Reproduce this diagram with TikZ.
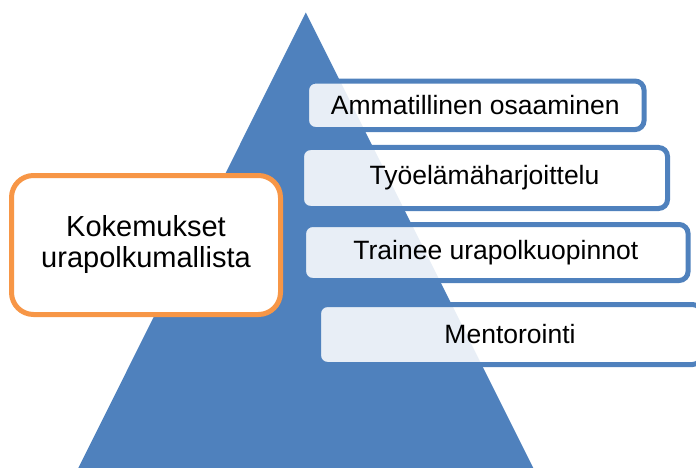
\documentclass[tikz,border=0pt]{standalone}
\usepackage{fontspec}
\setmainfont{Liberation Sans}
\usetikzlibrary{positioning}
\definecolor{pyramidblue}{RGB}{79,129,189}
\definecolor{kokemusorange}{RGB}{247,150,70}

\begin{document}
\begin{tikzpicture}[x=1pt, y=-1pt,
		levelbox/.style={rectangle, rounded corners=9pt, draw=pyramidblue, line width=5pt,
			fill=white, fill opacity=0.87, text opacity=1, inner sep=0pt,
			font=\fontsize{26.5}{30}\selectfont},
		notebox/.style={rectangle, rounded corners=22pt, draw=kokemusorange, line width=5pt,
			fill=white, align=center, inner sep=0pt,
			font=\fontsize{29}{31}\selectfont}]
		\useasboundingbox (0,0) rectangle (696,468);
%		\draw[help lines, step=50] (0,0) grid (696,468);
		\path (305.8,12.5) coordinate (apex);
		\path (78.3,468) coordinate (base_left);
		\path (533.3,468) coordinate (base_right);

		\fill[pyramidblue] (apex) -- (base_left) -- (base_right) -- cycle;

		\path (475.3,105.3) node(osaaminen) [levelbox, minimum width=337.5, minimum height=48.5] {Ammatillinen osaaminen};
		\path (484.5,178) node(harjoittelu) [levelbox, minimum width=366, minimum height=61] {Työelämäharjoittelu};
		\path (495.8,252.5) node(trainee) [levelbox, minimum width=384.5, minimum height=56] {Trainee urapolkuopinnot};
		\path (510,334.5) node(mentorointi) [levelbox, minimum width=383, minimum height=60] {Mentorointi};

		\path (146,245) node(kokemukset) [notebox, minimum width=269, minimum height=139] {Kokemukset\\urapolkumallista};
	\end{tikzpicture}
\end{document}
